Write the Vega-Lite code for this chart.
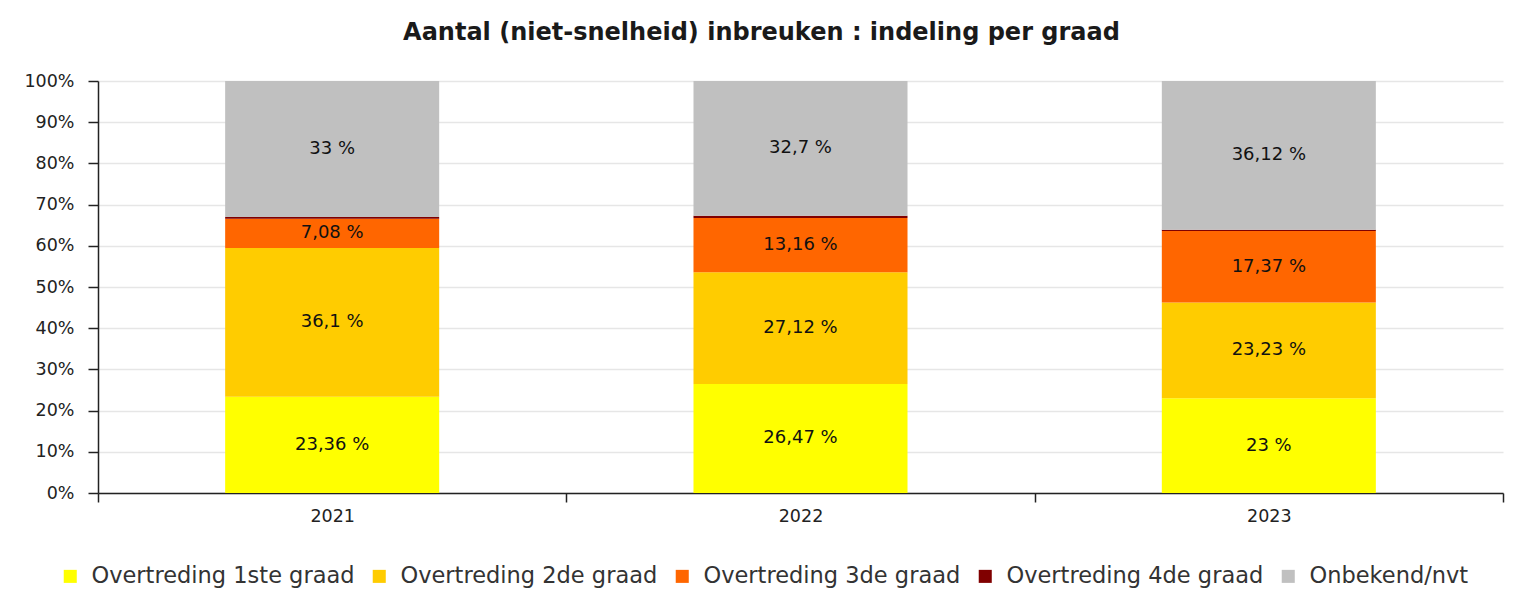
{
  "$schema": "https://vega.github.io/schema/vega-lite/v6.json",
  "autosize": "none",
  "width": 1405,
  "height": 412,
  "padding": {"left": 98, "top": 81, "right": 15, "bottom": 108},
  "background": "white",
  "title": {
    "text": "Aantal (niet-snelheid) inbreuken : indeling per graad",
    "font": "DejaVu Sans",
    "fontSize": 24,
    "fontWeight": "bold",
    "color": "#1a1a1a",
    "anchor": "middle",
    "dx": -39,
    "offset": 27
  },
  "data": {
    "values": [
      {"year": "2021", "k": 1, "cat": "Overtreding 1ste graad", "value": 23.36},
      {"year": "2021", "k": 2, "cat": "Overtreding 2de graad", "value": 36.1},
      {"year": "2021", "k": 3, "cat": "Overtreding 3de graad", "value": 7.08},
      {"year": "2021", "k": 4, "cat": "Overtreding 4de graad", "value": 0.46},
      {"year": "2021", "k": 5, "cat": "Onbekend/nvt", "value": 33},
      {"year": "2022", "k": 1, "cat": "Overtreding 1ste graad", "value": 26.47},
      {"year": "2022", "k": 2, "cat": "Overtreding 2de graad", "value": 27.12},
      {"year": "2022", "k": 3, "cat": "Overtreding 3de graad", "value": 13.16},
      {"year": "2022", "k": 4, "cat": "Overtreding 4de graad", "value": 0.55},
      {"year": "2022", "k": 5, "cat": "Onbekend/nvt", "value": 32.7},
      {"year": "2023", "k": 1, "cat": "Overtreding 1ste graad", "value": 23},
      {"year": "2023", "k": 2, "cat": "Overtreding 2de graad", "value": 23.23},
      {"year": "2023", "k": 3, "cat": "Overtreding 3de graad", "value": 17.37},
      {"year": "2023", "k": 4, "cat": "Overtreding 4de graad", "value": 0.28},
      {"year": "2023", "k": 5, "cat": "Onbekend/nvt", "value": 36.12}
    ]
  },
  "transform": [
    {"stack": "value", "groupby": ["year"], "sort": [{"field": "k", "order": "ascending"}], "as": ["y0", "y1"]},
    {"calculate": "(datum.y0 + datum.y1) / 2", "as": "ymid"},
    {"calculate": "replace(format(datum.value, '.2~f'), '.', ',') + ' %'", "as": "label"}
  ],
  "encoding": {
    "x": {
      "field": "year",
      "type": "nominal",
      "scale": {"paddingInner": 0, "paddingOuter": 0},
      "axis": {
        "title": null,
        "labelAngle": 0,
        "tickBand": "extent",
        "tickSize": 9,
        "tickColor": "#222",
        "tickWidth": 1.5,
        "domainColor": "#222",
        "domainWidth": 1.5,
        "labelFont": "DejaVu Sans",
        "labelFontSize": 17.5,
        "labelColor": "#222",
        "labelPadding": 5,
        "grid": false
      }
    }
  },
  "layer": [
    {
      "mark": {"type": "bar", "width": {"band": 0.457}},
      "encoding": {
        "y": {
          "field": "y0",
          "type": "quantitative",
          "scale": {"domain": [0, 100], "nice": false},
          "axis": {
            "title": null,
            "values": [0, 10, 20, 30, 40, 50, 60, 70, 80, 90, 100],
            "labelExpr": "datum.value + '%'",
            "tickSize": 10,
            "tickColor": "#222",
            "tickWidth": 1.5,
            "domainColor": "#222",
            "domainWidth": 1.5,
            "labelFont": "DejaVu Sans",
            "labelFontSize": 17.5,
            "labelColor": "#222",
            "labelPadding": 14,
            "grid": true,
            "gridColor": "#e6e6e6",
            "gridWidth": 1.5
          }
        },
        "y2": {"field": "y1"},
        "color": {
          "field": "cat",
          "type": "nominal",
          "scale": {
            "domain": ["Overtreding 1ste graad", "Overtreding 2de graad", "Overtreding 3de graad", "Overtreding 4de graad", "Onbekend/nvt"],
            "range": ["#ffff00", "#ffcc00", "#ff6600", "#800000", "#c0c0c0"]
          },
          "legend": {
            "title": null,
            "orient": "none",
            "direction": "horizontal",
            "legendX": -39,
            "legendY": 484,
            "symbolType": "square",
            "symbolSize": 170,
            "symbolStrokeWidth": 0,
            "labelFont": "DejaVu Sans",
            "labelFontSize": 22.5,
            "labelColor": "#333",
            "labelOffset": 10,
            "labelLimit": 400,
            "columnPadding": 13
          }
        }
      }
    },
    {
      "transform": [{"filter": "datum.k != 4"}],
      "mark": {"type": "text", "font": "DejaVu Sans", "fontSize": 18, "color": "#111", "baseline": "middle"},
      "encoding": {
        "y": {"field": "ymid", "type": "quantitative"},
        "text": {"field": "label"}
      }
    }
  ],
  "config": {
    "view": {"stroke": null}
  }
}
